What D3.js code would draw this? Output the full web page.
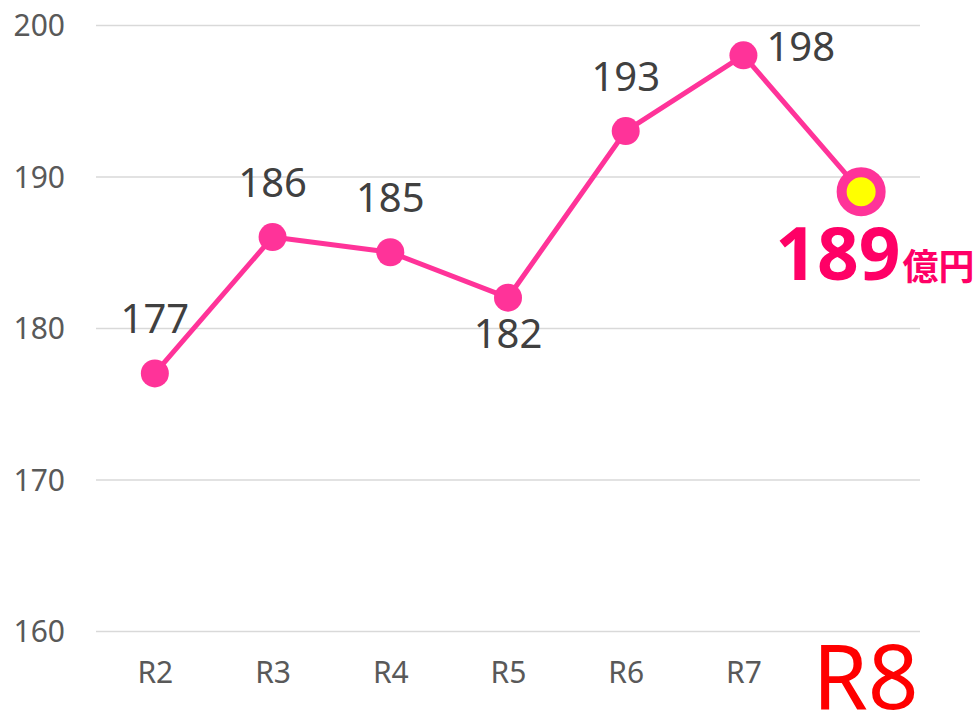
<!DOCTYPE html>
<html>
<head>
<meta charset="utf-8">
<script src="https://cdn.jsdelivr.net/npm/d3@7"></script>
<style>
  body { margin: 0; background: #fff; }
  svg { display: block; }
  svg text { font-family: "Noto Sans", "Noto Sans CJK JP", sans-serif; }
</style>
</head>
<body>
<script>
// data
const years = ["R2", "R3", "R4", "R5", "R6", "R7", "R8"];
const values = [177, 186, 185, 182, 193, 198, 189];
const yTicks = [160, 170, 180, 190, 200];
const labelSide = ["above", "above", "above", "below", "above", "right", "big"];
const unit = "億円";

const width = 977, height = 712;
const margin = { top: 25, right: 57, bottom: 81, left: 96 };

const svg = d3.select("body").append("svg")
  .attr("width", width)
  .attr("height", height);

const x = d3.scalePoint()
  .domain(years)
  .range([margin.left, width - margin.right])
  .padding(0.5);

const y = d3.scaleLinear()
  .domain([160, 200])
  .range([height - margin.bottom, margin.top]);

// gridlines + y labels
const yAxis = svg.append("g")
  .attr("transform", `translate(${margin.left},0)`)
  .call(d3.axisLeft(y).tickValues(yTicks)
    .tickSize(-(width - margin.left - margin.right))
    .tickPadding(31))
  .attr("font-family", null);
yAxis.select(".domain").remove();
yAxis.selectAll("line").attr("stroke", "#d9d9d9").attr("stroke-width", 1.5);
yAxis.selectAll("text")
  .attr("fill", "#595959")
  .style("font-size", "30px")
  .attr("dy", "0.36em");

// x labels
const xAxis = svg.append("g")
  .attr("transform", `translate(0,${height - margin.bottom})`)
  .call(d3.axisBottom(x).tickSize(0).tickPadding(0))
  .attr("font-family", null);
xAxis.select(".domain").remove();
xAxis.selectAll("text")
  .attr("dy", null)
  .attr("y", 52)
  .attr("fill", "#595959")
  .style("font-size", "30px");
xAxis.selectAll("text").filter(d => d === "R8")
  .attr("x", 4)
  .attr("y", 78)
  .attr("fill", "#ff0000")
  .style("font-size", "89px");

// line
const line = d3.line()
  .x((d, i) => x(years[i]))
  .y(d => y(d));

svg.append("path")
  .datum(values)
  .attr("fill", "none")
  .attr("stroke", "#ff3399")
  .attr("stroke-width", 5)
  .attr("stroke-linejoin", "round")
  .attr("d", line);

// markers
const last = values.length - 1;
svg.append("g")
  .selectAll("circle")
  .data(values.slice(0, last))
  .join("circle")
  .attr("cx", (d, i) => x(years[i]))
  .attr("cy", d => y(d))
  .attr("r", 14)
  .attr("fill", "#ff3399");

svg.append("circle")
  .attr("cx", x(years[last]))
  .attr("cy", y(values[last]))
  .attr("r", 19.5)
  .attr("fill", "#ffff00")
  .attr("stroke", "#ff3399")
  .attr("stroke-width", 10);

// data labels
const labels = svg.append("g")
  .style("font-size", "40px")
  .attr("fill", "#404040");

values.forEach((v, i) => {
  const px = x(years[i]), py = y(v);
  const side = labelSide[i];
  if (side === "above") {
    labels.append("text").attr("x", px).attr("y", py - 40)
      .attr("text-anchor", "middle").text(v);
  } else if (side === "below") {
    labels.append("text").attr("x", px).attr("y", py + 50)
      .attr("text-anchor", "middle").text(v);
  } else if (side === "right") {
    labels.append("text").attr("x", px + 23).attr("y", py + 6)
      .attr("text-anchor", "start").text(v);
  } else {
    const t = svg.append("text")
      .attr("x", px - 86)
      .attr("y", py + 88)
      .attr("fill", "#ff0066")
      .style("font-weight", "bold");
    t.append("tspan").style("font-size", "73px").text(v);
    t.append("tspan")
      .attr("dx", 2)
      .style("font-size", "36px")
      .style("font-family", "'Noto Sans CJK JP', sans-serif")
      .text(unit);
  }
});
</script>
</body>
</html>
